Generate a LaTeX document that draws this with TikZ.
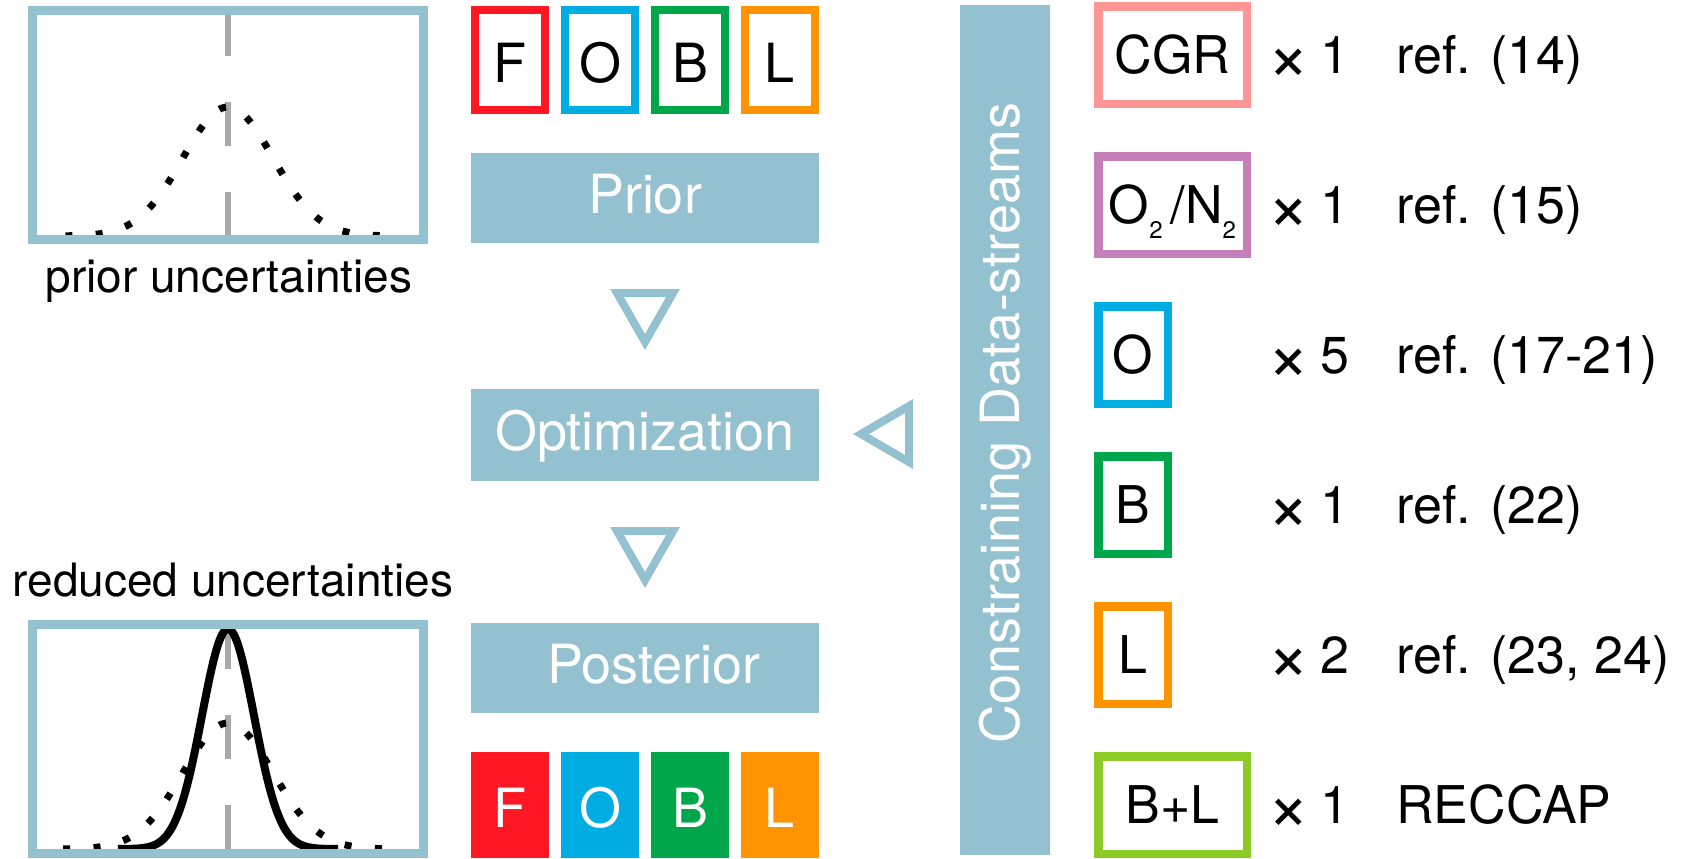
\documentclass[tikz,border=0pt]{standalone}
\usepackage{fontspec}
\setmainfont{TeX Gyre Heros}
\definecolor{steel}{RGB}{147,193,207}
\definecolor{cF}{RGB}{255,24,36}
\definecolor{cO}{RGB}{0,173,226}
\definecolor{cB}{RGB}{0,166,74}
\definecolor{cL}{RGB}{255,148,0}
\definecolor{cCGR}{RGB}{255,150,150}
\definecolor{cON}{RGB}{197,128,187}
\definecolor{cBL}{RGB}{140,203,38}
\definecolor{dashgray}{RGB}{169,169,169}
\newcommand{\bigtimes}{\raisebox{-3.5pt}{\scalebox{1.4}{×}}\hspace{5.5pt}}
\begin{document}
\begin{tikzpicture}[x=0.5pt,y=-0.5pt,
  plotbox/.style={draw=steel, line width=4.5pt, inner sep=0pt, minimum width=195.5pt, minimum height=114.5pt},
  fobl/.style={draw=#1, line width=4pt, inner sep=0pt, minimum width=35pt, minimum height=50pt, font=\fontsize{27pt}{30pt}\selectfont, text height=24pt, text depth=2pt},
  foblfill/.style={fill=#1, text=white, inner sep=0pt, minimum width=39pt, minimum height=53pt, font=\fontsize{27pt}{30pt}\selectfont, text height=24pt, text depth=2pt},
  barbox/.style={fill=steel, text=white, inner sep=0pt, minimum width=174pt, minimum height=45pt, font=\fontsize{27pt}{30pt}\selectfont, text height=20pt, text depth=5pt},
  tri/.style={draw=steel, line width=4pt, line join=miter},
  dsbox/.style={draw=#1, line width=4.25pt, inner sep=0pt, minimum height=48.75pt, font=\fontsize{26pt}{30pt}\selectfont, text height=20pt, text depth=2pt},
  widebox/.style={minimum width=74.25pt},
  narrowbox/.style={minimum width=34.75pt},
  rtext/.style={anchor=base west, inner sep=0pt, font=\fontsize{26pt}{30pt}\selectfont},
  ltext/.style={anchor=base, inner sep=0pt, font=\fontsize{23pt}{28pt}\selectfont},
  graydash/.style={draw=dashgray, line width=3pt, dash pattern=on 22pt off 23pt},
  dotcurve/.style={line width=3.5pt, dash pattern=on 3.5pt off 11.75pt},
  solidcurve/.style={line width=4pt},
]
\useasboundingbox (0,0) rectangle (1686,858);

% ---------- prior plot ----------
\draw[graydash] (228,236) -- (228,14);
\draw[dotcurve, dash phase=14.25pt] plot[domain=0:166, samples=120] ({228-\x}, {236-129*exp(-0.5*(\x/45)^2)});
\draw[dotcurve, dash phase=4.5pt] plot[domain=0:154, samples=120] ({228+\x}, {236-129*exp(-0.5*(\x/45)^2)});
\node[plotbox] (priorplot) at (228,125) {};
\node[ltext] (priorlab) at (229,292) {prior uncertainties};

% ---------- posterior plot ----------
\node[ltext] (redlab) at (233,596) {reduced uncertainties};
\draw[graydash] (228,849) -- (228,628);
\draw[dotcurve, dash phase=14.25pt] plot[domain=0:166, samples=120] ({228-\x}, {849-126*exp(-0.5*(\x/45)^2)});
\draw[dotcurve, dash phase=4.5pt] plot[domain=0:154, samples=120] ({228+\x}, {849-126*exp(-0.5*(\x/45)^2)});
\draw[solidcurve] plot[domain=118:338, samples=160] (\x, {849-220*exp(-0.5*((\x-228)/26)^2)});
\node[plotbox] (postplot) at (228,739) {};

% ---------- middle column ----------
\node[fobl=cF] (tF) at (510,60) {F};
\node[fobl=cO] (tO) at (600,60) {O};
\node[fobl=cB] (tB) at (690,60) {B};
\node[fobl=cL] (tL) at (780,60) {L};

\node[barbox] (prior) at (645,198) {Prior};
\draw[tri] (617,293) -- (673,293) -- (645,342) -- cycle;
\node[barbox, minimum height=46pt] (opt) at (645,435) {Optimization};
\draw[tri] (617,531) -- (673,531) -- (645,580) -- cycle;
\node[barbox] (post) at (645,668) {\hspace*{9pt}Posterior};

\node[foblfill=cF] (bF) at (510,805) {F};
\node[foblfill=cO] (bO) at (600,805) {O};
\node[foblfill=cB] (bB) at (690,805) {B};
\node[foblfill=cL] (bL) at (780,805) {L};

\draw[tri] (861,434) -- (909,406) -- (909,462) -- cycle;

% ---------- data-streams bar ----------
\node[fill=steel, inner sep=0pt, minimum width=45pt, minimum height=425pt] (ds) at (1005,430) {};
\node[rotate=90, anchor=base west, inner sep=0pt, text=white, font=\fontsize{27pt}{30pt}\selectfont] (dslab) at (1019,744) {Constraining Data-streams};

% ---------- right column ----------
\node[dsbox=cCGR, widebox] (cgr) at (1172.5,55) {CGR};
\node[dsbox=cON, widebox] (on) at (1172.5,205) {O\raisebox{-7.5pt}{\fontsize{12pt}{13pt}\selectfont 2}\hspace{4pt}/N\raisebox{-7.5pt}{\fontsize{12pt}{13pt}\selectfont 2}};
\node[dsbox=cO, narrowbox] (ro) at (1133,355) {O};
\node[dsbox=cB, narrowbox] (rb) at (1133,505) {B};
\node[dsbox=cL, narrowbox] (rl) at (1133,655) {L};
\node[dsbox=cBL, widebox] (rbl) at (1172.5,805) {B+L};

\node[rtext] (n1) at (1267,73) {\bigtimes 1};
\node[rtext] (n2) at (1267,223) {\bigtimes 1};
\node[rtext] (n3) at (1267,373) {\bigtimes 5};
\node[rtext] (n4) at (1267,523) {\bigtimes 1};
\node[rtext] (n5) at (1267,673) {\bigtimes 2};
\node[rtext] (n6) at (1267,823) {\bigtimes 1};

\node[rtext] (r1) at (1396,73) {ref. (14)};
\node[rtext] (r2) at (1396,223) {ref. (15)};
\node[rtext] (r3) at (1396,373) {ref. (17-21)};
\node[rtext] (r4) at (1396,523) {ref. (22)};
\node[rtext] (r5) at (1396,673) {ref. (23, 24)};
\node[rtext] (r6) at (1396,823) {RECCAP};
\end{tikzpicture}
\end{document}
